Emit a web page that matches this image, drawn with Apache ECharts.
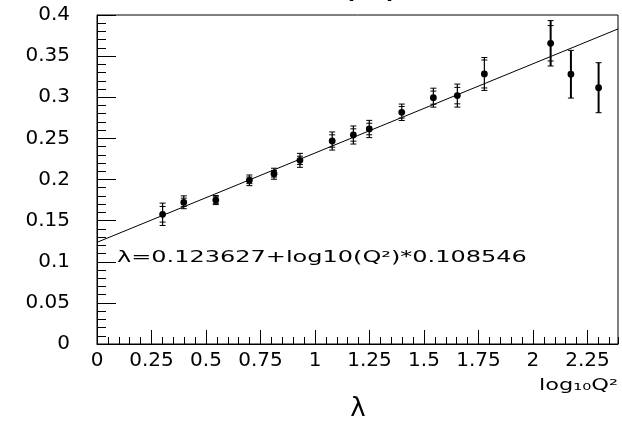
<!DOCTYPE html>
<html>
<head>
<meta charset="utf-8">
<script src="https://cdn.jsdelivr.net/npm/echarts@6/dist/echarts.min.js"></script>
<style>
  html, body { margin: 0; padding: 0; background: #fff; }
  #chart { width: 622px; height: 427px; }
</style>
</head>
<body>
<div id="chart"></div>
<script>
// log10(Q^2) bin centres
const logQ2 = [0.301, 0.398, 0.545, 0.699, 0.812, 0.931, 1.079, 1.176, 1.249, 1.398, 1.543, 1.653, 1.777, 2.081, 2.174, 2.301];
// measured lambda
const lambda = [0.1577, 0.1723, 0.175, 0.199, 0.207, 0.2233, 0.2468, 0.2541, 0.2614, 0.2817, 0.2995, 0.302, 0.3283, 0.3656, 0.328, 0.3116];
// statistical and total uncertainties
const statErr = [0.0095, 0.005, 0.004, 0.004, 0.004, 0.005, 0.0075, 0.0075, 0.007, 0.007, 0.008, 0.010, 0.017, 0.0215, 0.029, 0.0304];
const totErr = [0.0136, 0.0078, 0.0055, 0.0065, 0.0067, 0.0085, 0.011, 0.011, 0.0105, 0.010, 0.0115, 0.014, 0.020, 0.0276, 0.029, 0.0304];
// linear fit: lambda = p0 + log10(Q^2) * p1
const fitP0 = 0.123627;
const fitP1 = 0.108546;
const fitLabel = 'λ=0.123627+log10(Q²)*0.108546';

const xMin = 0, xMax = 2.39;
const yMin = 0, yMax = 0.4;

const points = logQ2.map((x, i) => [x, lambda[i], statErr[i], totErr[i]]);
const fitLine = [[xMin, fitP0], [xMax, fitP0 + fitP1 * xMax]];

const fmt = v => String(+v.toFixed(2));
const font = 'DejaVu Sans';
const plotHeight = 427 - 15 - 83;

function renderPoint(params, api) {
  const x = api.value(0), y = api.value(1), s = api.value(2), t = api.value(3);
  const c = api.coord([x, y]);
  const top = api.coord([x, y + t]);
  const bot = api.coord([x, y - t]);
  const sTop = api.coord([x, y + s]);
  const sBot = api.coord([x, y - s]);
  const hw = 3;
  const w = t > 0.025 ? 2 : 1.2;
  const st = { stroke: '#000', lineWidth: w };
  const tick = p => ({ type: 'line', shape: { x1: p[0] - hw, y1: p[1], x2: p[0] + hw, y2: p[1] }, style: { stroke: '#000', lineWidth: 1 } });
  const children = [
    { type: 'line', shape: { x1: c[0], y1: top[1], x2: c[0], y2: bot[1] }, style: st },
    tick(top), tick(bot)
  ];
  if (s < t) { children.push(tick(sTop), tick(sBot)); }
  children.push({ type: 'circle', shape: { cx: c[0], cy: c[1], r: 3.4 }, style: { fill: '#000' } });
  return { type: 'group', children };
}

const chart = echarts.init(document.getElementById('chart'), null, { renderer: 'canvas' });
chart.setOption({
  backgroundColor: '#fff',
  animation: false,
  grid: { left: 97, right: 4, top: 15, bottom: 83, show: true, borderColor: '#000', borderWidth: 1, backgroundColor: 'transparent' },
  xAxis: [
    {
      type: 'value', position: 'bottom', min: xMin, max: xMax, interval: 0.25,
      axisLine: { show: true, lineStyle: { color: '#000', width: 1 } },
      axisTick: { show: true, inside: true, length: 14, lineStyle: { color: '#000', width: 1 } },
      splitLine: { show: false },
      axisLabel: { show: true, showMaxLabel: false, margin: 7, color: '#000', fontFamily: font, fontSize: 20, formatter: fmt }
    },
    {
      // fine 0.05 ticks, moved down onto the bottom edge
      type: 'value', position: 'top', offset: -plotHeight, min: xMin, max: xMax, interval: 0.05,
      axisLine: { show: false },
      axisTick: { show: true, inside: false, length: 7, lineStyle: { color: '#000', width: 1 } },
      splitLine: { show: false },
      axisLabel: { show: false }
    }
  ],
  yAxis: {
    type: 'value', min: yMin, max: yMax, interval: 0.05,
    axisLine: { show: true, lineStyle: { color: '#000', width: 1 } },
    axisTick: { show: true, inside: true, length: 19, lineStyle: { color: '#000', width: 1 } },
    minorTick: { show: true, splitNumber: 5, length: 9, lineStyle: { color: '#000', width: 1 } },
    splitLine: { show: false },
    minorSplitLine: { show: false },
    axisLabel: { margin: 27, color: '#000', fontFamily: font, fontSize: 20, formatter: fmt }
  },
  series: [
    {
      type: 'line', xAxisIndex: 0, data: fitLine, showSymbol: false, symbol: 'none',
      lineStyle: { color: '#000', width: 1 }, silent: true, z: 2
    },
    {
      type: 'custom', xAxisIndex: 0, data: points, renderItem: renderPoint, z: 3,
      encode: { x: 0, y: 1 }
    }
  ],
  graphic: [
    {
      type: 'text', x: 117, y: 250,
      style: { text: fitLabel, fill: '#000', font: '16px "DejaVu Sans"', verticalAlign: 'top' },
      scaleX: 1.5
    },
    {
      type: 'text', x: 618, y: 379,
      style: { text: 'log₁₀Q²', fill: '#000', font: '15px "DejaVu Sans"', align: 'right', verticalAlign: 'top' },
      scaleX: 1.5
    },
    {
      type: 'text', x: 358, y: 396,
      style: { text: 'λ', fill: '#000', font: '26px "DejaVu Sans"', align: 'center', verticalAlign: 'top' }
    },
    {
      // plot title, sitting mostly above the top edge of the page
      type: 'text', x: 313, y: 4,
      style: { text: 'λ(x)', fill: '#000', font: '30px "DejaVu Sans"', verticalAlign: 'bottom' },
      scaleX: 1.5
    }
  ]
});
</script>
</body>
</html>
